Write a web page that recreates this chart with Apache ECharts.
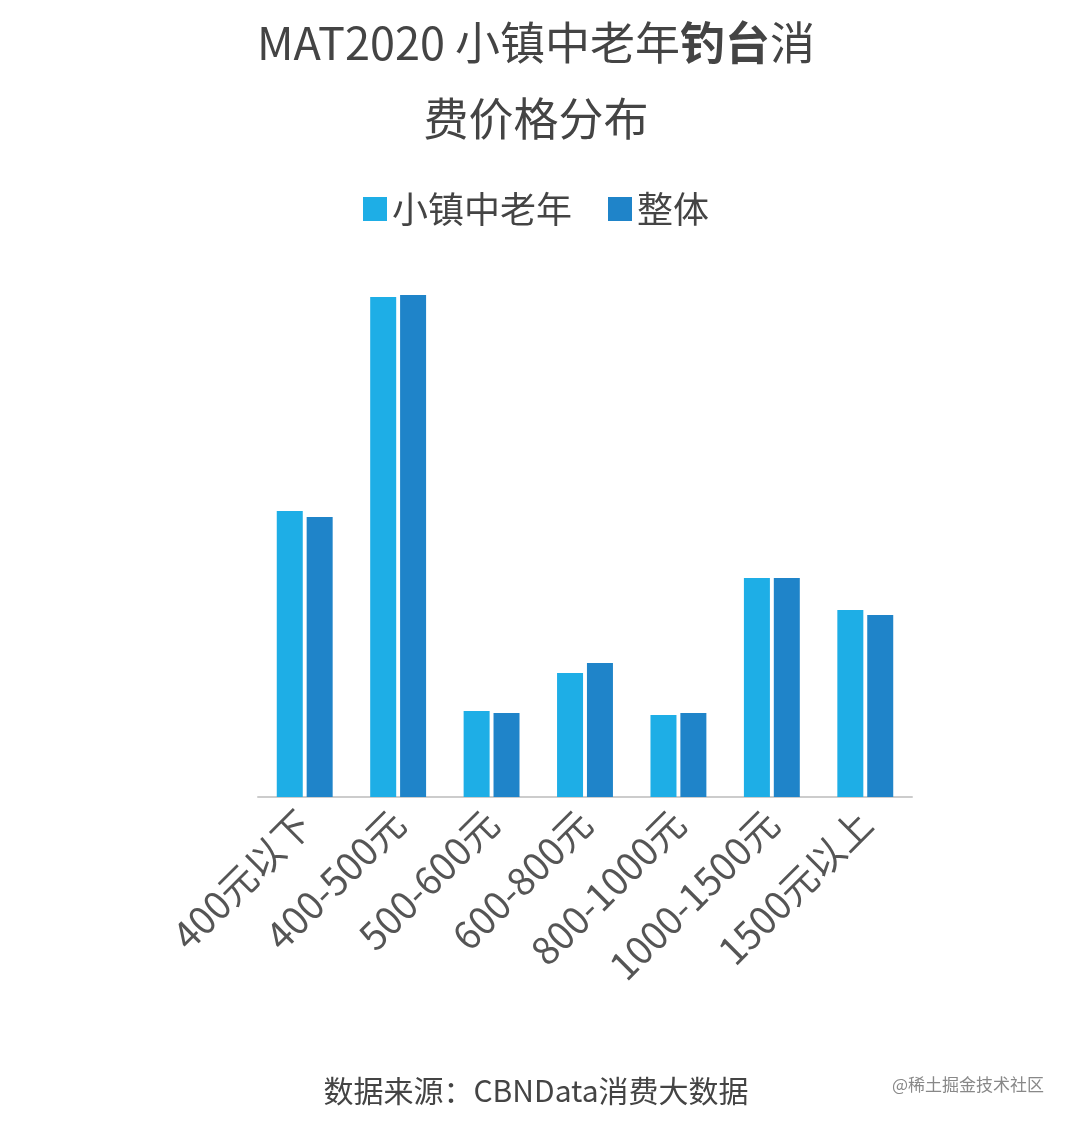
<!DOCTYPE html>
<html lang="zh">
<head>
    <meta charset="UTF-8">
    <title>MAT2020 小镇中老年钓台消费价格分布</title>
    <script src="https://cdn.jsdelivr.net/npm/echarts@6/dist/echarts.min.js"></script>
</head>
<body style="margin:0;background:#fff;">
<div id="main" style="width:1072px;height:1124px;"></div>
<script>
    var categories = ['400元以下', '400-500元', '500-600元', '600-800元', '800-1000元', '1000-1500元', '1500元以上'];
    var townElder = [286, 500, 86, 124, 82, 219, 187];
    var overall = [280, 502, 84, 134, 84, 219, 182];

    var myChart = echarts.init(document.getElementById('main'));
    var option = {
        backgroundColor: '#fff',
        textStyle: {fontFamily: 'Noto Sans CJK SC'},
        title: {
            text: '{n|MAT2020 小镇中老年}{b|钓台}{n|消}\n{n|费价格分布}',
            left: 'center',
            top: 0,
            textStyle: {
                fontWeight: 'normal',
                rich: {
                    n: {fontSize: 45, color: '#444', fontWeight: 'normal', lineHeight: 76, fontFamily: 'Noto Sans CJK SC'},
                    b: {fontSize: 45, color: '#444', fontWeight: 'bold', lineHeight: 76, fontFamily: 'Noto Sans CJK SC'}
                }
            }
        },
        legend: {
            top: 186,
            left: 'center',
            itemWidth: 24,
            itemHeight: 24,
            itemGap: 36,
            icon: 'rect',
            textStyle: {fontSize: 36, color: '#444'},
            data: ['小镇中老年', '整体']
        },
        grid: {left: 258, right: 160, top: 280, bottom: 327},
        xAxis: {
            type: 'category',
            data: categories,
            axisLine: {lineStyle: {color: '#ccc', width: 2}},
            axisTick: {show: false},
            axisLabel: {rotate: 45, fontSize: 38, color: '#555', margin: 20, interval: 0}
        },
        yAxis: {
            type: 'value',
            min: 0,
            max: 517,
            show: false,
            splitLine: {show: false}
        },
        series: [
            {
                name: '小镇中老年',
                type: 'bar',
                barWidth: 26,
                barGap: '15%',
                itemStyle: {color: '#1eaee6'},
                data: townElder
            },
            {
                name: '整体',
                type: 'bar',
                barWidth: 26,
                itemStyle: {color: '#1f84c9'},
                data: overall
            }
        ],
        graphic: [
            {type: 'text', left: 'center', top: 1076, style: {text: '数据来源：CBNData消费大数据', fontSize: 30, fill: '#444', fontFamily: 'Noto Sans CJK SC'}},
            {type: 'text', right: 28, top: 1076, style: {text: '@稀土掘金技术社区', fontSize: 17, fill: '#888', fontFamily: 'Noto Sans CJK SC'}}
        ]
    };
    myChart.setOption(option);
</script>
</body>
</html>
